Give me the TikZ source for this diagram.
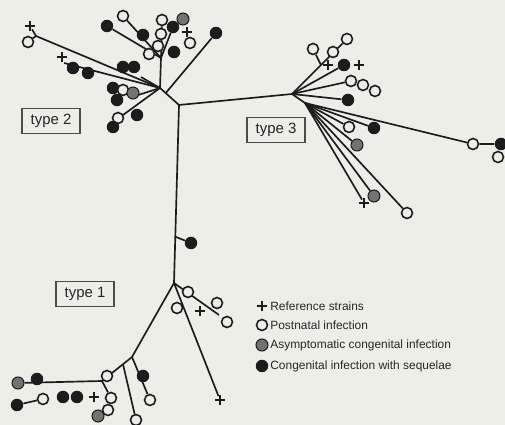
\documentclass[tikz,border=0pt]{standalone}
\usepackage{fontspec}
\setmainfont{Liberation Sans}
\usetikzlibrary{calc,shapes.misc}
\definecolor{paper}{RGB}{237,238,232}
\definecolor{ink}{RGB}{28,28,28}
\pgfdeclarelayer{bg}
\pgfsetlayers{bg,main}

\begin{document}
\begin{tikzpicture}[x=0.02cm, y=-0.02cm,
    branch/.style={draw=ink, line width=0.95pt},
    postnatal/.style={circle, draw=ink, line width=0.9pt, fill=paper,
      minimum size=0.22cm, inner sep=0pt},
    asympt/.style={circle, draw=ink, line width=0.6pt, fill=black!55,
      minimum size=0.24cm, inner sep=0pt},
    sequel/.style={circle, fill=ink, minimum size=0.25cm, inner sep=0pt},
    refstrain/.style={cross out, draw=ink, line width=0.9pt, rotate=45,
      minimum size=0.12cm, inner sep=0pt},
    typebox/.style={draw=black!70, line width=0.8pt, text=black!85,
      font=\fontsize{8.5}{10}\selectfont, minimum width=1.16cm,
      minimum height=0.5cm, inner sep=1pt},
    legend/.style={anchor=west, text=black!85,
      font=\fontsize{6.8}{8}\selectfont, inner sep=0pt}
  ]
  \useasboundingbox (0,0) rectangle (505,425);

  % backbone
  \coordinate (h2) at (160,88);
  \coordinate (jn) at (179,105);
  \coordinate (h3) at (292,94);
  \coordinate (h3b) at (305,103);
  \coordinate (h1) at (174,283);
  \coordinate (stub) at ($(jn)!0.74!(h1)$);
  \node[sequel] (s0) at (191,243) {};

  % type 2
  \coordinate (f2a) at (36,36);
  \node[refstrain] (r2a) at (30,26) {};
  \node[postnatal] (p2a) at (28,42) {};
  \coordinate (f2b) at (64,63);
  \node[refstrain] (r2b) at (62,57) {};
  \node[sequel] (s2b1) at (73,68) {};
  \node[sequel] (s2b2) at (88,73) {};
  \coordinate (f2c) at (141,77);
  \node[sequel] (s2c1) at (123,67) {};
  \node[sequel] (s2c2) at (134,67) {};
  \coordinate (f2d) at (132,97);
  \node[sequel] (s2d1) at (113,88) {};
  \node[postnatal] (p2d) at (123,90) {};
  \node[asympt] (a2d) at (133,93) {};
  \node[sequel] (s2d2) at (117,100) {};
  \coordinate (f2e) at (123,115);
  \node[postnatal] (p2e) at (118,118) {};
  \node[sequel] (s2e1) at (137,115) {};
  \node[sequel] (s2e2) at (113,127) {};
  \coordinate (f2s) at ($(h2)!0.3!(jn)$);
  \node[sequel] (s2f) at (216,33) {};
  \coordinate (f2u) at (161,58);
  \node[sequel] (s2u1) at (107,26) {};
  \node[postnatal] (p2u1) at (123,16) {};
  \node[sequel] (s2u4) at (143,35) {};
  \node[postnatal] (p2u2) at (149,54) {};
  \node[postnatal] (p2u3) at (158,46) {};
  \node[postnatal] (p2u4) at (161,34) {};
  \node[postnatal] (p2u5) at (162,20) {};
  \node[sequel] (s2u2) at (173,27) {};
  \node[asympt] (a2u) at (183,19) {};
  \node[refstrain] (r2u) at (187,32) {};
  \node[postnatal] (p2u6) at (190,43) {};
  \node[sequel] (s2u3) at (174,52) {};

  % type 3
  \coordinate (f3a) at (321,65);
  \node[postnatal] (p3a1) at (313,49) {};
  \node[postnatal] (p3a2) at (333,52) {};
  \node[postnatal] (p3a3) at (347,39) {};
  \node[refstrain] (r3b1) at (328,65) {};
  \node[sequel] (s3b) at (344,65) {};
  \node[refstrain] (r3b2) at (359,65) {};
  \node[postnatal] (p3c1) at (351,81) {};
  \node[postnatal] (p3c2) at (363,85) {};
  \node[postnatal] (p3c3) at (375,91) {};
  \node[sequel] (s3d) at (348,100) {};
  \node[postnatal] (p3e) at (473,144) {};
  \node[sequel] (s3e) at (501,144) {};
  \node[postnatal] (p3e2) at (498,157) {};
  \node[sequel] (s3f) at (374,128) {};
  \node[postnatal] (p3g) at (349,127) {};
  \node[asympt] (a3h) at (357,145) {};
  \node[asympt] (a3i) at (374,196) {};
  \node[refstrain] (r3i) at (364,203) {};
  \node[postnatal] (p3j) at (407,213) {};

  % type 1
  \node[refstrain] (r1a) at (220,400) {};
  \coordinate (f1b) at (219,315);
  \node[postnatal] (p1b1) at (188,292) {};
  \node[postnatal] (p1b2) at (217,303) {};
  \node[postnatal] (p1b3) at (227,322) {};
  \node[refstrain] (r1b) at (200,311) {};
  \node[postnatal] (p1b4) at (177,308) {};
  \coordinate (f1c) at (132,357);
  \coordinate (f1f) at (102,381);
  \coordinate (f1e) at ($(f1c)!0.3!(f1f)$);
  \node[sequel] (s1d) at (143,376) {};
  \node[postnatal] (p1d) at (150,400) {};
  \node[postnatal] (p1e) at (136,420) {};
  \node[postnatal] (p1f) at (107,376) {};
  \node[asympt] (a1g) at (18,383) {};
  \node[sequel] (s1g) at (37,379) {};
  \node[sequel] (s1h) at (17,405) {};
  \node[postnatal] (p1h) at (43,399) {};
  \node[sequel] (s1i1) at (63,397) {};
  \node[sequel] (s1i2) at (77,397) {};
  \node[refstrain] (r1i) at (94,397) {};
  \node[postnatal] (p1i) at (111,398) {};
  \node[postnatal] (p1j) at (108,410) {};
  \node[asympt] (a1j) at (98,416) {};

  % labels and key
  \node[typebox] (t2) at (51,121) {type 2};
  \node[typebox] (t3) at (276,130) {type 3};
  \node[typebox] (t1) at (85,294) {type 1};
  \node[refstrain] (kr) at (262,306) {};
  \node[legend] (kr-t) at (270,306) {Reference strains};
  \node[postnatal] (kp) at (262,325) {};
  \node[legend] (kp-t) at (270,325) {Postnatal infection};
  \node[asympt] (ka) at (262,345) {};
  \node[legend] (ka-t) at (270,345) {Asymptomatic congenital infection};
  \node[sequel] (ks) at (262,366) {};
  \node[legend] (ks-t) at (270,366) {Congenital infection with sequelae};

  \begin{pgfonlayer}{bg}
    \fill[paper] (0,0) rectangle (505,425);
    \draw[branch] (h2) -- (jn) -- (h3);
    \draw[branch] (jn) -- (h1);
    \draw[branch] (stub) -- (s0);
    % type 2 branches
    \draw[branch] (h2) -- (f2a);
    \draw[branch] (f2a) -- (r2a);
    \draw[branch] (f2a) -- (p2a);
    \draw[branch] (h2) -- (f2b);
    \draw[branch] (h2) -- (f2c);
    \draw[branch] (h2) -- (f2d);
    \draw[branch] (h2) -- (f2e);
    \draw[branch] (f2s) -- (s2f);
    \draw[branch] (h2) -- (f2u);
    \draw[branch] (f2u) -- (s2u1);
    \draw[branch] (f2u) -- (p2u1);
    \draw[branch] (f2u) -- (p2u5);
    \draw[branch] (f2u) -- (s2u2);
    % type 3 branches
    \draw[branch] (h3) -- (h3b);
    \draw[branch] (h3) -- (p3a3);
    \draw[branch] (f3a) -- (p3a1);
    \draw[branch] (h3) -- (s3b);
    \draw[branch] (h3) -- (p3c1);
    \draw[branch] (h3) -- (s3d);
    \draw[branch] (h3b) -- (p3e) -- (s3e);
    \draw[branch] (h3b) -- (s3f);
    \draw[branch] (h3b) -- (p3g);
    \draw[branch] (h3b) -- (a3h);
    \draw[branch] (h3b) -- (a3i);
    \draw[branch] (h3b) -- (r3i);
    \draw[branch] (h3b) -- (p3j);
    % type 1 branches
    \draw[branch] (h1) -- (r1a);
    \draw[branch] (h1) -- (f1b);
    \draw[branch] (h1) -- (f1c) -- (f1f) -- (a1g);
    \draw[branch] (f1c) -- (p1d);
    \draw[branch] (f1e) -- (p1e);
    \draw[branch] (f1f) -- (p1i);
    \draw[branch] (s1h) -- (p1h);
  \end{pgfonlayer}
\end{tikzpicture}
\end{document}
